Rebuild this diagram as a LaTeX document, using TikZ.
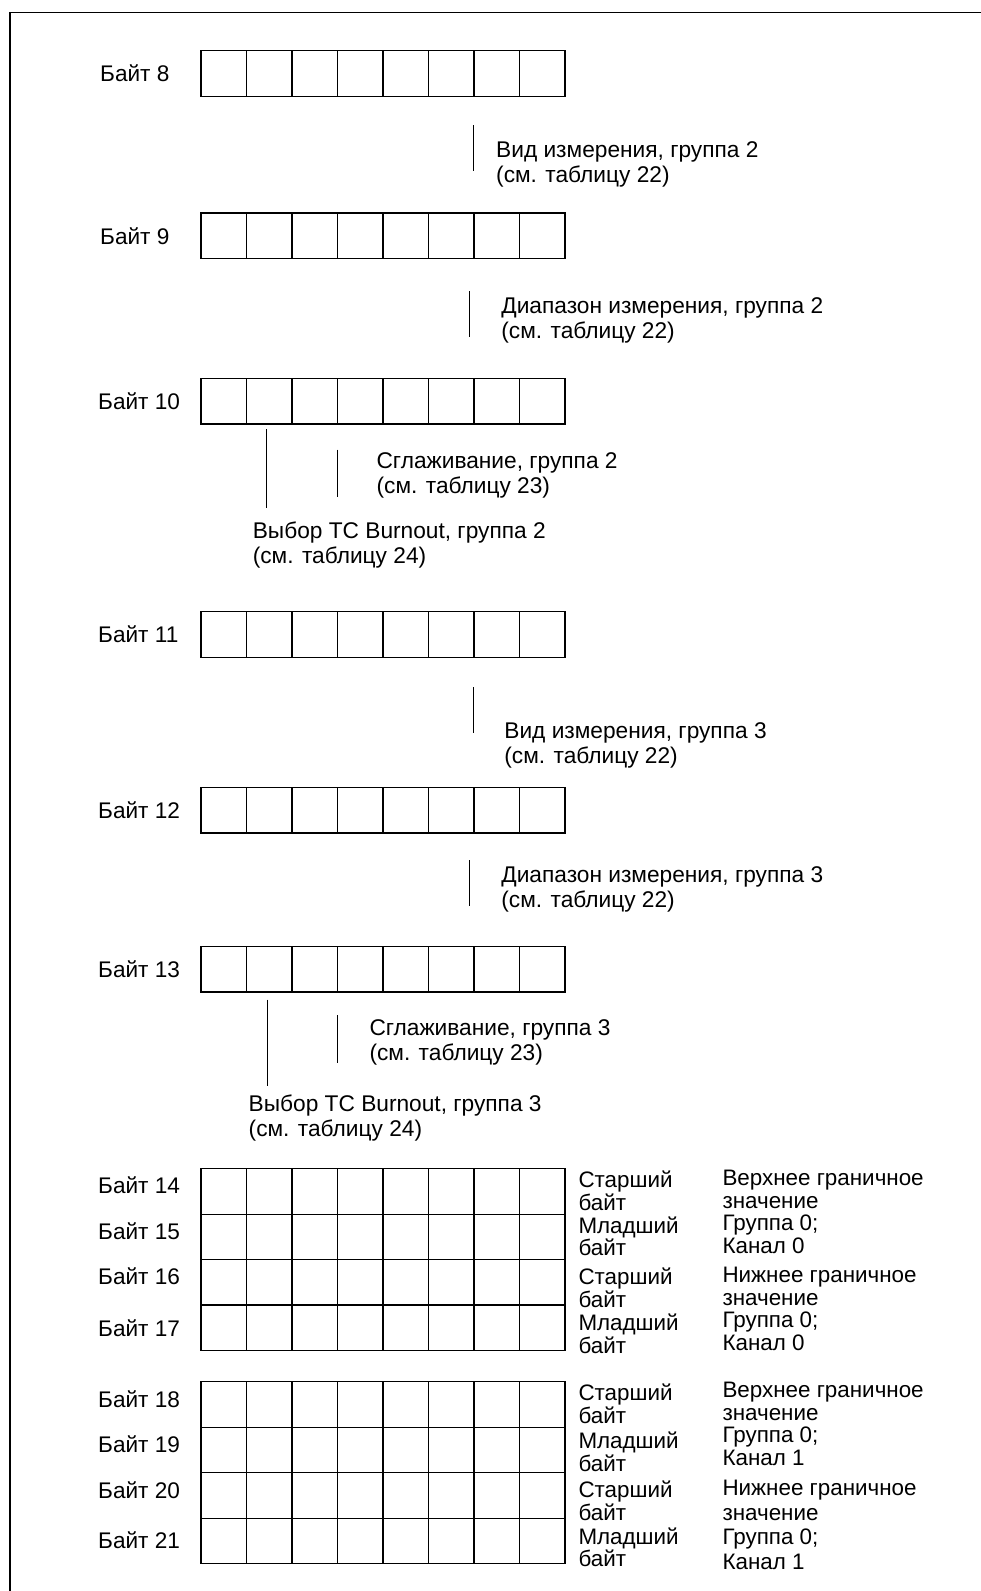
\documentclass[tikz,border=0pt]{standalone}
\usepackage{fontspec}
\setmainfont{Liberation Sans}
\usetikzlibrary{positioning, calc}
\newcommand{\cellw}{45.5}
\tikzset{
  frameline/.style={draw=black, line width=1.5pt},
  bytebox/.style={draw=black, line width=1.4pt, minimum width=364pt,
                  minimum height=45.5pt, inner sep=0pt, outer sep=0pt},
  cellline/.style={draw=black, line width=1.4pt},
  tick/.style={draw=black, line width=0.9pt},
  bytelbl/.style={anchor=west, inner sep=0pt, font=\fontsize{22.6}{25}\selectfont},
  note/.style={anchor=west, align=left, inner sep=0pt,
               font=\fontsize{22.7}{25}\selectfont},
  side/.style={anchor=west, align=left, inner sep=0pt,
               font=\fontsize{22.4}{22.6}\selectfont},
}

\begin{document}
\begin{tikzpicture}[x=1pt, y=-1pt]
  \useasboundingbox (0,0) rectangle (981,1591);
  \draw[frameline] (981,12.7) -- (10,12.7) -- (10,1591);

  % single bytes 8 ... 13
  \node[bytebox, anchor=north west] (b8)  at (200.9,50.7)  {};
  \node[bytebox, anchor=north west] (b9)  at (200.9,213)   {};
  \node[bytebox, anchor=north west] (b10) at (200.9,378.4) {};
  \node[bytebox, anchor=north west] (b11) at (200.9,611.7) {};
  \node[bytebox, anchor=north west] (b12) at (200.9,787.3) {};
  \node[bytebox, anchor=north west] (b13) at (200.9,946.5) {};

  % limit values, channel 0 and 1
  \node[bytebox, anchor=north west] (b14) at (200.9,1168.7) {};
  \node[bytebox, below=0pt of b14] (b15) {};
  \node[bytebox, below=0pt of b15] (b16) {};
  \node[bytebox, below=0pt of b16] (b17) {};
  \node[bytebox, anchor=north west] (b18) at (200.9,1381.7) {};
  \node[bytebox, below=0pt of b18] (b19) {};
  \node[bytebox, below=0pt of b19] (b20) {};
  \node[bytebox, below=0pt of b20] (b21) {};

  \foreach \b in {b8,b9,b10,b11,b12,b13,b14,b15,b16,b17,b18,b19,b20,b21}
    \foreach \k in {1,...,7}
      \draw[cellline] ($(\b.north west)+(\k*\cellw,0)$) -- ($(\b.south west)+(\k*\cellw,0)$);
  \draw[cellline, line width=2.2pt] (b17.north west) -- (b17.north east);

  \node[bytelbl] (l8)  at (100,73.5)  {Байт 8};
  \node[bytelbl] (l9)  at (100,235.8) {Байт 9};
  \node[bytelbl] (l10) at (98,401.2) {Байт 10};
  \node[bytelbl] (l11) at (98,634.5) {Байт 11};
  \node[bytelbl] (l12) at (98,810)   {Байт 12};
  \node[bytelbl] (l13) at (98,969.3) {Байт 13};
  \node[bytelbl] (l14) at (98,1185)  {Байт 14};
  \node[bytelbl] (l15) at (98,1231.6) {Байт 15};
  \node[bytelbl] (l16) at (98,1276.2) {Байт 16};
  \node[bytelbl] (l17) at (98,1328)  {Байт 17};
  \node[bytelbl] (l18) at (98,1399)  {Байт 18};
  \node[bytelbl] (l19) at (98,1444.6) {Байт 19};
  \node[bytelbl] (l20) at (98,1490.3) {Байт 20};
  \node[bytelbl] (l21) at (98,1540)  {Байт 21};

  % explanations
  \node[note] (t8)   at (496,164.3)   {Вид измерения, группа 2\\(см. таблицу 22)};
  \node[note] (t9)   at (501.2,320)   {Диапазон измерения, группа 2\\(см. таблицу 22)};
  \node[note] (t10s) at (376.4,475.3) {Сглаживание, группа 2\\(см. таблицу 23)};
  \node[note] (t10b) at (252.6,545.3) {Выбор TC Burnout, группа 2\\(см. таблицу 24)};
  \node[note] (t11)  at (504.2,745.1) {Вид измерения, группа 3\\(см. таблицу 22)};
  \node[note] (t12)  at (501.2,889.2) {Диапазон измерения, группа 3\\(см. таблицу 22)};
  \node[note] (t13s) at (369.3,1042.4) {Сглаживание, группа 3\\(см. таблицу 23)};
  \node[note] (t13b) at (248.5,1118.4) {Выбор TC Burnout, группа 3\\(см. таблицу 24)};

  \coordinate (p8a)  at (473.5,125);   \coordinate (p8b)  at (473.5,170.5);
  \coordinate (p9a)  at (469.7,291);   \coordinate (p9b)  at (469.7,337);
  \coordinate (p10a) at (266,429);     \coordinate (p10b) at (266,508);
  \coordinate (p10c) at (337.5,449.5); \coordinate (p10d) at (337.5,497);
  \coordinate (p11a) at (473.5,687);   \coordinate (p11b) at (473.5,732.5);
  \coordinate (p12a) at (469.7,860);   \coordinate (p12b) at (469.7,906);
  \coordinate (p13a) at (267,999.5);   \coordinate (p13b) at (267,1085.5);
  \coordinate (p13c) at (337.5,1015);  \coordinate (p13d) at (337.5,1062.5);
  \draw[tick] (p8a) -- (p8b);
  \draw[tick] (p9a) -- (p9b);
  \draw[tick] (p10a) -- (p10b);
  \draw[tick] (p10c) -- (p10d);
  \draw[tick] (p11a) -- (p11b);
  \draw[tick] (p12a) -- (p12b);
  \draw[tick] (p13a) -- (p13b);
  \draw[tick] (p13c) -- (p13d);

  % high / low byte
  \node[side] (s14) at (578.3,1191)   {Старший\\байт};
  \node[side] (s15) at (578.3,1236.2) {Младший\\байт};
  \node[side] (s16) at (578.3,1287.5) {Старший\\байт};
  \node[side] (s17) at (578.3,1334)   {Младший\\байт};
  \node[side] (s18) at (578.3,1404)   {Старший\\байт};
  \node[side] (s19) at (578.3,1451.8) {Младший\\байт};
  \node[side] (s20) at (578.3,1500.5) {Старший\\байт};
  \node[side] (s21) at (578.3,1547.2) {Младший\\байт};

  \node[side] (hi0) at (722.3,1212) {Верхнее граничное\\значение\\Группа 0;\\Канал 0};
  \node[side] (lo0) at (722.3,1309) {Нижнее граничное\\значение\\Группа 0;\\Канал 0};
  \node[side] (hi1) at (722.3,1424) {Верхнее граничное\\значение\\Группа 0;\\Канал 1};
  \node[side, font=\fontsize{22.4}{24.6}\selectfont] (lo1) at (722.3,1525)
    {Нижнее граничное\\значение\\Группа 0;\\Канал 1};
\end{tikzpicture}
\end{document}
